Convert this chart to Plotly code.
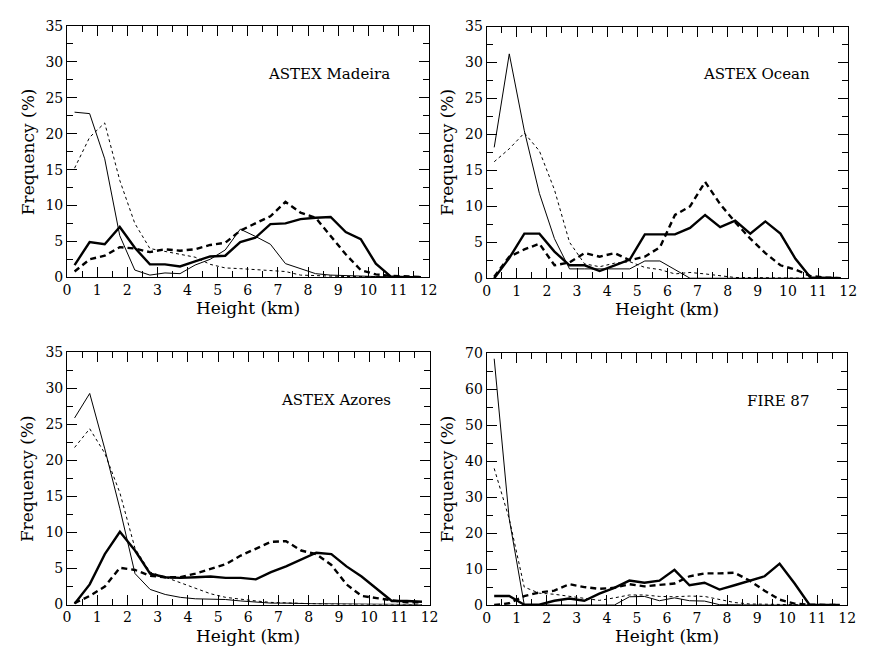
import plotly.graph_objects as go

# Bin centres (km), 0.5 km bins
height_km = [0.25, 0.75, 1.25, 1.75, 2.25, 2.75, 3.25, 3.75, 4.25, 4.75, 5.25, 5.75,
             6.25, 6.75, 7.25, 7.75, 8.25, 8.75, 9.25, 9.75, 10.25, 10.75, 11.25, 11.75]

panel_names = ["ASTEX Madeira", "ASTEX Ocean", "ASTEX Azores", "FIRE 87"]

# ASTEX Madeira
madeira_thin_solid = [23.0, 22.8, 16.5, 5.8, 1.0, 0.3, 0.6, 0.5, 1.7, 2.5, 3.8, 6.7,
                      5.7, 4.6, 1.9, 1.2, 0.5, 0.3, 0.2, 0.1, 0.1, 0.05, 0.0, 0.0]
madeira_thin_dash = [15.2, 19.5, 21.5, 13.5, 7.5, 4.0, 3.6, 3.2, 2.8, 1.8, 1.3, 1.2,
                     1.1, 1.0, 0.8, 0.3, 0.2, 0.1, 0.1, 0.1, 0.05, 0.0, 0.0, 0.0]
madeira_thick_solid = [1.7, 4.9, 4.6, 7.0, 4.1, 1.8, 1.8, 1.5, 2.2, 2.9, 3.0, 4.9,
                       5.5, 7.4, 7.5, 8.1, 8.3, 8.4, 6.3, 5.3, 1.9, 0.1, 0.0, 0.0]
madeira_thick_dash = [0.8, 2.5, 3.0, 4.2, 4.0, 3.5, 3.9, 3.7, 3.9, 4.5, 4.8, 6.5,
                      7.5, 8.5, 10.5, 9.0, 8.3, 5.8, 3.2, 1.0, 0.4, 0.2, 0.1, 0.05]

# ASTEX Ocean
ocean_thin_solid = [18.2, 31.2, 20.5, 11.8, 5.5, 1.3, 1.3, 1.3, 1.3, 1.3, 2.4, 2.4,
                    1.2, 0.0, 0.0, 0.0, 0.0, 0.0, 0.0, 0.0, 0.0, 0.0, 0.0, 0.0]
ocean_thin_dash = [16.2, 18.0, 20.2, 17.7, 12.3, 5.0, 2.0, 1.6, 2.1, 2.3, 1.5, 1.2,
                   0.6, 0.8, 0.6, 0.3, 0.1, 0.1, 0.05, 0.0, 0.0, 0.0, 0.0, 0.0]
ocean_thick_solid = [0.0, 2.8, 6.2, 6.2, 3.7, 1.8, 1.8, 1.0, 1.8, 2.6, 6.1, 6.1,
                     6.1, 7.0, 8.8, 7.1, 8.0, 6.2, 7.9, 6.2, 2.7, 0.1, 0.0, 0.0]
ocean_thick_dash = [0.2, 3.0, 4.0, 4.8, 1.8, 2.2, 3.5, 3.0, 3.5, 2.5, 3.0, 4.3,
                    8.8, 10.0, 13.4, 10.3, 7.8, 5.5, 3.5, 1.8, 1.2, 0.3, 0.1, 0.0]

# ASTEX Azores
azores_thin_solid = [25.9, 29.3, 21.6, 13.3, 4.3, 2.1, 1.4, 1.0, 0.8, 0.8, 0.7, 0.5,
                     0.3, 0.2, 0.2, 0.1, 0.1, 0.1, 0.1, 0.05, 0.0, 0.0, 0.0, 0.0]
azores_thin_dash = [21.8, 24.4, 21.0, 15.5, 7.8, 4.5, 3.8, 3.0, 2.2, 1.5, 1.0, 0.7,
                    0.5, 0.3, 0.2, 0.1, 0.1, 0.05, 0.0, 0.0, 0.0, 0.0, 0.0, 0.0]
azores_thick_solid = [0.1, 2.8, 7.0, 10.1, 7.5, 4.3, 3.8, 3.7, 3.8, 3.9, 3.7, 3.7,
                      3.5, 4.5, 5.3, 6.3, 7.2, 7.0, 5.3, 3.9, 2.2, 0.5, 0.5, 0.4]
azores_thick_dash = [0.2, 1.2, 2.5, 5.1, 4.8, 4.0, 3.8, 3.8, 4.3, 5.0, 5.6, 6.8,
                     7.8, 8.7, 8.8, 7.5, 7.0, 5.5, 2.8, 1.2, 0.9, 0.6, 0.3, 0.3]

# FIRE 87
fire_thin_solid = [68.5, 24.0, 0.1, 0.0, 0.0, 0.0, 0.0, 0.0, 0.0, 2.3, 2.4, 1.2,
                   2.0, 1.2, 1.1, 0.1, 0.0, 0.0, 0.0, 0.0, 0.0, 0.0, 0.0, 0.0]
fire_thin_dash = [38.0, 24.0, 5.0, 3.3, 3.0, 2.5, 1.8, 1.3, 2.0, 2.8, 2.8, 2.4,
                  2.3, 2.5, 2.4, 1.5, 0.7, 0.3, 0.2, 0.1, 0.0, 0.0, 0.0, 0.0]
fire_thick_solid = [2.5, 2.5, 0.1, 0.1, 1.2, 1.8, 1.2, 3.2, 4.8, 6.8, 6.2, 6.8,
                    9.8, 5.5, 6.2, 4.3, 5.5, 6.8, 8.0, 11.5, 6.0, 0.0, 0.0, 0.0]
fire_thick_dash = [0.0, 0.5, 2.5, 3.5, 4.0, 5.8, 5.0, 4.5, 4.8, 5.8, 5.2, 5.5,
                   6.0, 8.0, 8.8, 8.8, 9.0, 6.8, 4.0, 1.5, 0.4, 0.1, 0.0, 0.0]

panel_series = [
    (madeira_thin_solid, madeira_thin_dash, madeira_thick_solid, madeira_thick_dash),
    (ocean_thin_solid, ocean_thin_dash, ocean_thick_solid, ocean_thick_dash),
    (azores_thin_solid, azores_thin_dash, azores_thick_solid, azores_thick_dash),
    (fire_thin_solid, fire_thin_dash, fire_thick_solid, fire_thick_dash),
]
y_max = [35, 35, 35, 70]
y_major = [5, 5, 5, 10]
x_ticks = list(range(0, 13))

FONT = "DejaVu Serif"
W, H = 870, 655

# Pixel boxes of the four panels: (left, right, top, bottom)
boxes = [(64, 431, 18.5, 276), (490, 857, 19, 277),
         (64, 432, 353, 611.5), (490, 856, 354, 612)]

line_styles = [
    dict(width=1.0, dash="solid"),
    dict(width=1.0, dash="3px,3px"),
    dict(width=2.4, dash="solid"),
    dict(width=2.4, dash="6px,4px"),
]

fig = go.Figure()
annotations = []
for i, (series, (l, r, t, b)) in enumerate(zip(panel_series, boxes)):
    n = "" if i == 0 else str(i + 1)
    for vals, st in zip(series, line_styles):
        fig.add_trace(go.Scatter(x=height_km, y=vals, mode="lines",
                                 line=dict(color="black", **st),
                                 xaxis="x" + n, yaxis="y" + n, showlegend=False))
    common = dict(showline=True, linecolor="black", linewidth=1, mirror="ticks",
                  ticks="inside", tickcolor="black", tickwidth=1, showgrid=False,
                  zeroline=False, tickfont=dict(family=FONT, size=14, color="black"))
    fig.layout["xaxis" + n] = dict(
        domain=[l / W, r / W], anchor="y" + n, range=[0, 12],
        tickvals=x_ticks, ticklen=10,
        minor=dict(dtick=0.5, tick0=0, ticklen=6, ticks="inside", tickcolor="black"),
        **common)
    fig.layout["yaxis" + n] = dict(
        domain=[1 - b / H, 1 - t / H], anchor="x" + n, range=[0, y_max[i]],
        dtick=y_major[i], tick0=0, ticklen=10,
        minor=dict(dtick=y_major[i] / 2, tick0=0, ticklen=6, ticks="inside",
                   tickcolor="black"),
        **common)
    # panel label
    annotations.append(dict(text=panel_names[i], xref="x" + n + " domain",
                            yref="y" + n + " domain", x=0.90, y=0.81,
                            xanchor="right", yanchor="middle", showarrow=False,
                            font=dict(family=FONT, size=15, color="black")))
    # axis titles
    annotations.append(dict(text="Height (km)", xref="x" + n + " domain",
                            yref="paper", x=0.5, y=1 - (b + 32) / H,
                            xanchor="center", yanchor="middle", showarrow=False,
                            font=dict(family=FONT, size=17, color="black")))
    annotations.append(dict(text="Frequency (%)", xref="paper",
                            yref="y" + n + " domain", x=(l - 40) / W, y=0.5,
                            xanchor="center", yanchor="middle", textangle=-90,
                            showarrow=False,
                            font=dict(family=FONT, size=17, color="black")))

fig.update_layout(width=W, height=H, margin=dict(l=0, r=0, t=0, b=0),
                  paper_bgcolor="white", plot_bgcolor="white",
                  annotations=annotations)
fig.write_html("out.html")
